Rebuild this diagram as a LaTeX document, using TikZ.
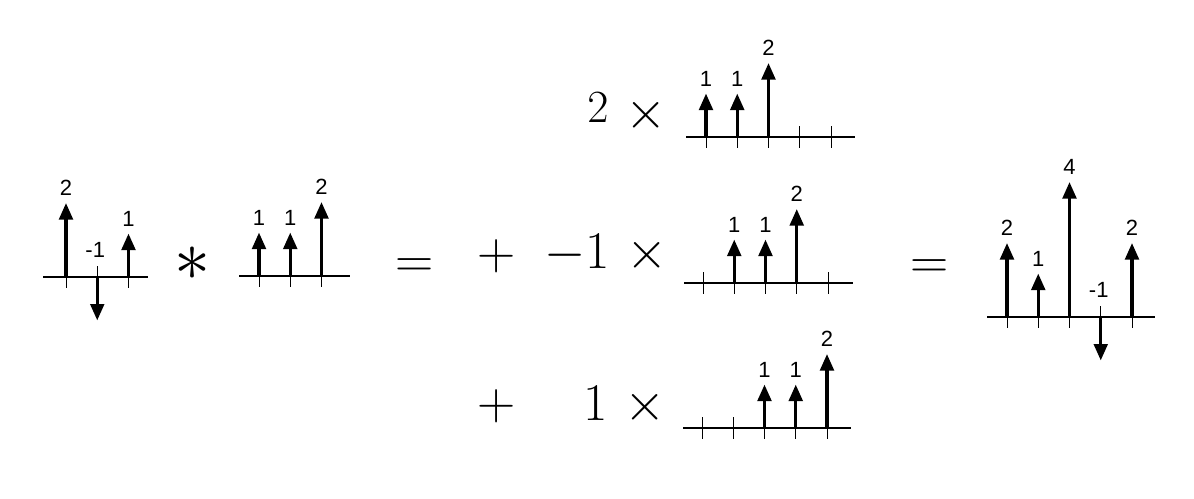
\documentclass[tikz,border=0pt]{standalone}
\usepackage{fontspec}
\newfontfamily\lblfont{Liberation Sans}
\usetikzlibrary{positioning,arrows.meta}

\begin{document}
\begin{tikzpicture}[x=1pt,y=1pt,
    axis/.style={line width=2pt},
    tick/.style={line width=0.9pt},
    stem/.style={line width=3.4pt,-{Triangle[width=13.5pt,length=16.5pt]}},
    val/.style={font=\lblfont\fontsize{22}{26}\selectfont,inner sep=0pt,anchor=south},
    op/.style={font=\Huge,scale=2.13,inner sep=0pt,anchor=base}]
  \useasboundingbox (0,0) rectangle (1194,-498);

  % stem plots: name / axis ends / first tick / axis level / values
  \foreach \p/\xa/\xb/\xo/\yo/\vals in {
    x/43/148/66/277/{2,-1,1},
    h/239/350/259/276/{1,1,2},
    ha/686/855/706/137/{1,1,2,0,0},
    hb/684/853/703/283/{0,1,1,2,0},
    hc/683/851/702/428/{0,0,1,1,2},
    y/987/1155/1007/317/{2,1,4,-1,2}}
  {
    \coordinate (\p-l) at (\xa,-\yo);
    \coordinate (\p-r) at (\xb,-\yo);
    \draw[axis] (\p-l) -- (\p-r);
    \foreach \v [count=\i] in \vals {
      \coordinate (\p-\i) at ({\xo+31.25*(\i-1)},-\yo);
      \draw[tick] (\p-\i) ++(0,11) -- ++(0,-22);
      \ifnum\v>0
        \draw[stem] (\p-\i) -- ++(0,{13+30.5*\v}) coordinate (\p-t\i);
        \node[val] (\p-v\i) at ([yshift=7pt]\p-t\i) {\v};
      \fi
      \ifnum\v<0
        \draw[stem] (\p-\i) -- ++(0,{-13+30.5*\v}) coordinate (\p-t\i);
        \node[val] (\p-v\i) at ([xshift=-2pt,yshift=19pt]\p-\i) {\v};
      \fi
    }
  }

  % operators and weights
  \node[op,scale=1.36] (conv) at (193,-280) {$\ast$};
  \node[op] (eqa) at (415,-277) {$=$};
  \node[op,scale=0.87] (ca) at (598,-122) {$2$};
  \node[op] (timesa) at (646.5,-128) {$\times$};
  \node[op] (plusb) at (497,-269) {$+$};
  \node[op] (cb) at (577,-268) {$-1$};
  \node[op] (timesb) at (647.5,-268) {$\times$};
  \node[op] (plusc) at (497,-419) {$+$};
  \node[op] (cc) at (596,-420) {$1$};
  \node[op] (timesc) at (645.5,-420.5) {$\times$};
  \node[op] (eqb) at (930,-278) {$=$};
\end{tikzpicture}
\end{document}
